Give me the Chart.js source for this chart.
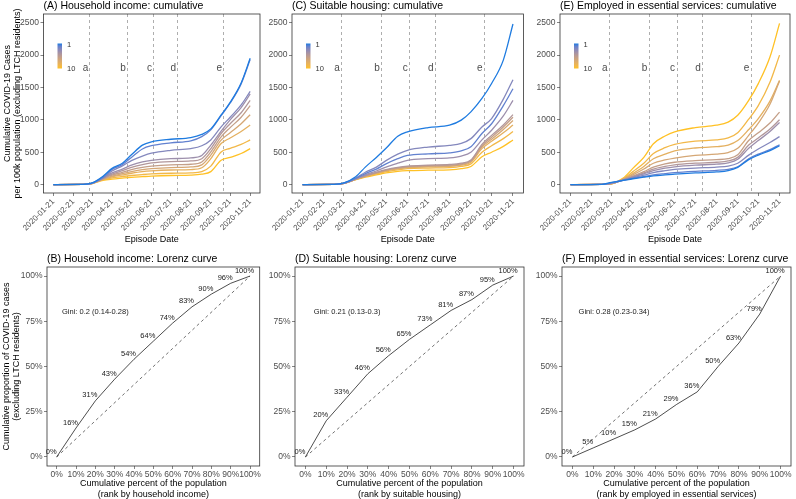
<!DOCTYPE html>
<html>
<head>
<meta charset="utf-8">
<script src="https://cdn.jsdelivr.net/npm/chart.js@4.4.0/dist/chart.umd.min.js"></script>
<style>
  body { margin: 0; background: #fff; }
  #wrap { position: relative; width: 796px; height: 499px; overflow: hidden; background: #fff; }
  canvas { position: absolute; }
</style>
</head>
<body>
<div id="wrap">
  <canvas id="cA" width="265" height="250" style="left:0px;top:0px"></canvas>
  <canvas id="cC" width="265" height="250" style="left:265px;top:0px"></canvas>
  <canvas id="cE" width="266" height="250" style="left:530px;top:0px"></canvas>
  <canvas id="cB" width="265" height="250" style="left:0px;top:250px"></canvas>
  <canvas id="cD" width="265" height="250" style="left:265px;top:250px"></canvas>
  <canvas id="cF" width="266" height="250" style="left:530px;top:250px"></canvas>
</div>
<script>
// ---- data ----
const episodeDates = ['2020-01-21', '2020-03-07', '2020-03-21', '2020-04-07', '2020-04-21', '2020-05-07',
    '2020-05-21', '2020-06-07', '2020-06-21', '2020-07-21', '2020-08-21', '2020-09-07', '2020-09-21',
    '2020-10-07', '2020-10-21', '2020-11-07', '2020-11-21'];
const dateTicks = ['2020-01-21', '2020-02-21', '2020-03-21', '2020-04-21', '2020-05-21', '2020-06-21',
    '2020-07-21', '2020-08-21', '2020-09-21', '2020-10-21', '2020-11-21'];
const eventDates = ['2020-03-17', '2020-05-14', '2020-06-24', '2020-07-31', '2020-10-10'];
const eventLetters = ['a', 'b', 'c', 'd', 'e'];
const decileLabels = ['1', '2', '3', '4', '5', '6', '7', '8', '9', '10'];
const caseTicks = [0, 500, 1000, 1500, 2000, 2500];

// cumulative cases per 100k, one row per decile (1 -> 10)
const incomeCases = [
    [0, 2, 25, 130, 250, 330, 460, 610, 660, 700, 725, 775, 860, 1075, 1270, 1570, 1950],
    [0, 2, 22, 115, 235, 310, 420, 550, 600, 645, 675, 740, 845, 1065, 1260, 1555, 1930],
    [0, 2, 20, 105, 210, 290, 370, 440, 485, 530, 557, 600, 690, 892, 1040, 1230, 1440],
    [0, 2, 20, 100, 180, 240, 300, 350, 375, 400, 412, 450, 610, 825, 1000, 1190, 1400],
    [0, 2, 20, 95, 160, 215, 265, 310, 335, 355, 365, 400, 555, 789, 940, 1110, 1300],
    [0, 2, 18, 90, 145, 190, 230, 265, 285, 305, 314, 350, 505, 737, 880, 1040, 1220],
    [0, 2, 18, 85, 130, 170, 200, 230, 245, 262, 272, 305, 455, 686, 800, 940, 1080],
    [0, 2, 16, 80, 120, 150, 175, 200, 212, 225, 232, 260, 400, 634, 720, 820, 920],
    [0, 2, 16, 75, 105, 125, 140, 155, 165, 175, 180, 200, 285, 505, 560, 620, 690],
    [0, 2, 15, 65, 85, 100, 112, 122, 130, 140, 145, 160, 200, 376, 420, 480, 555]
];
const housingCases = [
    [0, 2, 25, 120, 270, 420, 560, 747, 814, 881, 917, 995, 1123, 1330, 1562, 1923, 2480],
    [0, 2, 22, 95, 170, 240, 320, 400, 450, 475, 490, 520, 585, 790, 940, 1220, 1480],
    [0, 2, 22, 100, 190, 270, 370, 470, 530, 580, 605, 635, 710, 890, 1020, 1320, 1620],
    [0, 2, 20, 90, 150, 210, 270, 330, 375, 400, 412, 440, 500, 690, 840, 1060, 1300],
    [0, 2, 20, 85, 140, 190, 230, 265, 285, 300, 310, 330, 380, 620, 760, 920, 1080],
    [0, 2, 20, 85, 135, 185, 225, 258, 278, 292, 300, 320, 370, 600, 730, 890, 1040],
    [0, 2, 20, 80, 130, 180, 220, 250, 270, 283, 290, 310, 360, 580, 700, 850, 990],
    [0, 2, 20, 80, 128, 175, 212, 243, 262, 273, 280, 300, 345, 555, 670, 800, 920],
    [0, 2, 18, 78, 122, 165, 200, 228, 245, 255, 262, 280, 320, 500, 600, 710, 820],
    [0, 2, 18, 75, 115, 150, 180, 205, 215, 222, 228, 245, 280, 430, 500, 590, 690]
];
const essentialCases = [
    [0, 3, 35, 65, 90, 115, 135, 150, 160, 180, 195, 215, 265, 385, 455, 525, 600],
    [0, 3, 30, 66, 95, 125, 150, 170, 185, 205, 220, 235, 275, 400, 470, 540, 615],
    [0, 2, 25, 68, 105, 145, 185, 215, 235, 255, 270, 285, 330, 455, 550, 650, 740],
    [0, 2, 20, 70, 115, 165, 215, 255, 275, 300, 315, 335, 390, 560, 680, 820, 960],
    [0, 2, 18, 72, 120, 180, 240, 280, 305, 330, 345, 365, 420, 610, 720, 860, 1000],
    [0, 2, 16, 75, 130, 200, 270, 320, 345, 370, 385, 400, 460, 680, 800, 950, 1120],
    [0, 2, 14, 80, 150, 240, 330, 380, 410, 450, 470, 495, 560, 760, 950, 1240, 1600],
    [0, 2, 14, 85, 170, 280, 400, 470, 520, 565, 585, 610, 680, 850, 1020, 1290, 1610],
    [0, 2, 12, 90, 200, 330, 480, 570, 620, 670, 690, 720, 800, 1010, 1220, 1580, 2000],
    [0, 2, 12, 100, 250, 420, 630, 750, 815, 880, 917, 965, 1070, 1300, 1560, 1970, 2490]
];

// Lorenz curves
const popPct = [0, 10, 20, 30, 40, 50, 60, 70, 80, 90, 100];
const pctTicks = [0, 25, 50, 75, 100];
const incomeLorenz = [0, 16, 31, 43, 54, 64, 74, 83, 90, 96, 100];
const housingLorenz = [0, 20, 33, 46, 56, 65, 73, 81, 87, 95, 100];
const essentialLorenz = [0, 5, 10, 15, 21, 29, 36, 50, 63, 79, 100];
const giniNotes = ['Gini: 0.2 (0.14-0.28)', 'Gini: 0.21 (0.13-0.3)', 'Gini: 0.28 (0.23-0.34)'];

// ---- helpers ----
const FONT = "'Liberation Sans', Arial, sans-serif";
Chart.defaults.font.family = FONT;

function dayOf(d) {
    const p = d.split('-').map(Number);
    return (Date.UTC(p[0], p[1] - 1, p[2]) - Date.UTC(2020, 0, 21)) / 86400000;
}

// blue -> gold gradient interpolated in Lab, like ggplot
function hexToRgb(h) { return [1, 3, 5].map(i => parseInt(h.substr(i, 2), 16)); }
function toLin(c) { c /= 255; return c <= 0.04045 ? c / 12.92 : Math.pow((c + 0.055) / 1.055, 2.4); }
function fromLin(c) {
    const v = c <= 0.0031308 ? 12.92 * c : 1.055 * Math.pow(c, 1 / 2.4) - 0.055;
    return Math.round(Math.max(0, Math.min(1, v)) * 255);
}
function rgbToLab(rgb) {
    const [r, g, b] = rgb.map(toLin);
    const X = (0.4124 * r + 0.3576 * g + 0.1805 * b) / 0.95047;
    const Y = 0.2126 * r + 0.7152 * g + 0.0722 * b;
    const Z = (0.0193 * r + 0.1192 * g + 0.9505 * b) / 1.08883;
    const f = t => t > 0.008856 ? Math.cbrt(t) : 7.787 * t + 16 / 116;
    return [116 * f(Y) - 16, 500 * (f(X) - f(Y)), 200 * (f(Y) - f(Z))];
}
function labToHex([L, a, b]) {
    const fy = (L + 16) / 116, fx = fy + a / 500, fz = fy - b / 200;
    const fi = t => t * t * t > 0.008856 ? t * t * t : (t - 16 / 116) / 7.787;
    const X = fi(fx) * 0.95047, Y = fi(fy), Z = fi(fz) * 1.08883;
    const rgb = [3.2406 * X - 1.5372 * Y - 0.4986 * Z, -0.9689 * X + 1.8758 * Y + 0.0415 * Z,
        0.0557 * X - 0.2040 * Y + 1.0570 * Z].map(fromLin);
    return '#' + rgb.map(v => v.toString(16).padStart(2, '0')).join('');
}
const lowLab = rgbToLab(hexToRgb('#1E7BE0'));
const highLab = rgbToLab(hexToRgb('#FFC125'));
const palette = decileLabels.map((_, i) => {
    const t = i / (decileLabels.length - 1);
    return labToHex(lowLab.map((v, k) => v + (highLab[k] - v) * t));
});

const panelBox = {
    id: 'panelBox',
    afterDraw(chart) {
        const { ctx, chartArea: a } = chart;
        ctx.save();
        ctx.strokeStyle = '#333333';
        ctx.lineWidth = 0.8;
        ctx.strokeRect(a.left, a.top, a.right - a.left, a.bottom - a.top);
        ctx.restore();
    }
};

const eventMarks = {
    id: 'eventMarks',
    beforeDatasetsDraw(chart) {
        const { ctx, chartArea: a, scales } = chart;
        ctx.save();
        ctx.strokeStyle = '#8c8c8c';
        ctx.lineWidth = 0.7;
        ctx.setLineDash([3, 3]);
        eventDates.forEach(d => {
            const x = Math.round(scales.x.getPixelForValue(dayOf(d))) + 0.5;
            ctx.beginPath();
            ctx.moveTo(x, a.top);
            ctx.lineTo(x, a.bottom);
            ctx.stroke();
        });
        ctx.setLineDash([]);
        ctx.fillStyle = '#4d4d4d';
        ctx.font = '10px ' + FONT;
        ctx.textAlign = 'center';
        ctx.textBaseline = 'middle';
        eventDates.forEach((d, i) => {
            ctx.fillText(eventLetters[i], scales.x.getPixelForValue(dayOf(d) - 6), scales.y.getPixelForValue(1800));
        });
        ctx.restore();
    }
};

const colourBar = {
    id: 'colourBar',
    afterDraw(chart) {
        const { ctx, chartArea: a } = chart;
        const x = a.left + 14, y = a.top + 29.5, w = 4.5, h = 25;
        const grad = ctx.createLinearGradient(0, y, 0, y + h);
        palette.forEach((c, i) => grad.addColorStop(i / (palette.length - 1), c));
        ctx.save();
        ctx.fillStyle = grad;
        ctx.fillRect(x, y, w, h);
        ctx.fillStyle = '#333333';
        ctx.font = '7.5px ' + FONT;
        ctx.textAlign = 'left';
        ctx.textBaseline = 'middle';
        ctx.fillText(decileLabels[0], x + w + 5, y + 1);
        ctx.fillText(decileLabels[decileLabels.length - 1], x + w + 5, y + h);
        ctx.restore();
    }
};

function lorenzNotes(values, note) {
    return {
        id: 'lorenzNotes',
        afterDatasetsDraw(chart) {
            const { ctx, scales } = chart;
            const pts = chart.getDatasetMeta(0).data;
            ctx.save();
            ctx.fillStyle = '#1a1a1a';
            ctx.font = '7.5px ' + FONT;
            ctx.textAlign = 'center';
            ctx.textBaseline = 'middle';
            pts.forEach((p, i) => ctx.fillText(values[i] + '%', p.x - 5.5, p.y - 5.5));
            ctx.fillText(note, scales.x.getPixelForValue(20), scales.y.getPixelForValue(80));
            ctx.restore();
        }
    };
}

const tickGrid = { drawOnChartArea: false, drawTicks: true, tickLength: 3, color: '#333333', lineWidth: 0.6 };
const tickFont = { size: 8.5 };

function cumulativeChart(id, title, cases, g) {
    const datasets = cases.map((vals, i) => ({
        label: decileLabels[i],
        data: vals.map((v, j) => ({ x: dayOf(episodeDates[j]), y: v })),
        borderColor: palette[i],
        borderWidth: 1.3,
        pointRadius: 0,
        cubicInterpolationMode: 'monotone',
        fill: false
    }));
    return new Chart(document.getElementById(id), {
        type: 'line',
        data: { datasets: datasets },
        options: {
            responsive: false,
            animation: false,
            events: [],
            layout: { padding: { left: 0, right: g.padR, top: 0, bottom: 0 } },
            plugins: {
                legend: { display: false },
                tooltip: { enabled: false },
                title: {
                    display: true, text: title, align: 'start', fullSize: false, color: '#000',
                    font: { size: 10.5, weight: 'normal' }, padding: { top: 0, bottom: 1.4 }
                }
            },
            scales: {
                x: {
                    type: 'linear', min: -15.25, max: 320.25,
                    afterBuildTicks: s => { s.ticks = dateTicks.map(d => ({ value: dayOf(d) })); },
                    afterFit: s => { s.height = g.xh; },
                    ticks: {
                        autoSkip: false, minRotation: 45, maxRotation: 45, padding: 1,
                        color: '#4d4d4d', font: { size: 8 },
                        callback: (v, i) => dateTicks[i]
                    },
                    grid: tickGrid,
                    border: { display: false },
                    title: {
                        display: true, text: 'Episode Date', color: '#000',
                        font: { size: 9, lineHeight: 1.2 }, padding: { top: 0, bottom: 5 }
                    }
                },
                y: {
                    type: 'linear', min: -130, max: 2635,
                    afterBuildTicks: s => { s.ticks = caseTicks.map(v => ({ value: v })); },
                    afterFit: s => { s.width = g.yw; },
                    ticks: { padding: 1.5, color: '#4d4d4d', font: tickFont, callback: v => String(v) },
                    grid: tickGrid,
                    border: { display: false },
                    title: g.yTitle ? {
                        display: true, text: g.yTitle, color: '#000',
                        font: { size: 9, lineHeight: 1.16 }, padding: { top: 1.8, bottom: 0 }
                    } : { display: false }
                }
            }
        },
        plugins: [eventMarks, panelBox, colourBar]
    });
}

function lorenzChart(id, title, values, note, rankText, g) {
    return new Chart(document.getElementById(id), {
        type: 'line',
        data: {
            datasets: [{
                data: popPct.map((p, i) => ({ x: p, y: values[i] })),
                borderColor: '#000', borderWidth: 0.7, pointRadius: 0, tension: 0, fill: false
            }, {
                data: [{ x: popPct[0], y: popPct[0] }, { x: popPct[popPct.length - 1], y: popPct[popPct.length - 1] }],
                borderColor: '#333', borderWidth: 0.7, borderDash: [3, 3], pointRadius: 0, fill: false
            }]
        },
        options: {
            responsive: false,
            animation: false,
            events: [],
            layout: { padding: { left: 0, right: g.padR, top: 0, bottom: 0 } },
            plugins: {
                legend: { display: false },
                tooltip: { enabled: false },
                title: {
                    display: true, text: title, align: 'start', fullSize: false, color: '#000',
                    font: { size: 10.5, weight: 'normal' }, padding: { top: 2.7, bottom: 1.7 }
                }
            },
            scales: {
                x: {
                    type: 'linear', min: -5, max: 105,
                    afterBuildTicks: s => { s.ticks = popPct.map(v => ({ value: v })); },
                    afterFit: s => { s.height = g.xh; },
                    ticks: { padding: 1, color: '#4d4d4d', font: tickFont, maxRotation: 0, autoSkip: false, callback: v => v + '%' },
                    grid: tickGrid,
                    border: { display: false },
                    title: {
                        display: true, text: ['Cumulative percent of the population', rankText], color: '#000',
                        font: { size: 9, lineHeight: 1.19 }, padding: { top: 0, bottom: 0 }
                    }
                },
                y: {
                    type: 'linear', min: -5, max: 105,
                    afterBuildTicks: s => { s.ticks = pctTicks.map(v => ({ value: v })); },
                    afterFit: s => { s.width = g.yw; },
                    ticks: { padding: 1.5, color: '#4d4d4d', font: tickFont, callback: v => v + '%' },
                    grid: tickGrid,
                    border: { display: false },
                    title: g.yTitle ? {
                        display: true, text: g.yTitle, color: '#000',
                        font: { size: 9, lineHeight: 1.16 }, padding: { top: 0.8, bottom: 0 }
                    } : { display: false }
                }
            }
        },
        plugins: [panelBox, lorenzNotes(values, note)]
    });
}

cumulativeChart('cA', '(A) Household income: cumulative', incomeCases,
    { yw: 43.5, xh: 57, padR: 5, yTitle: ['Cumulative COVID-19 Cases', 'per 100k population (excluding LTCH residents)'] });
cumulativeChart('cC', '(C) Suitable housing: cumulative', housingCases, { yw: 27, xh: 57, padR: 6.5 });
cumulativeChart('cE', '(E) Employed in essential services: cumulative', essentialCases, { yw: 30, xh: 57, padR: 6 });

lorenzChart('cB', '(B) Household income: Lorenz curve', incomeLorenz, giniNotes[0], '(rank by household income)',
    { yw: 47, xh: 34, padR: 5.3, yTitle: ['Cumulative proportion of COVID-19 cases', '(excluding LTCH residents)'] });
lorenzChart('cD', '(D) Suitable housing: Lorenz curve', housingLorenz, giniNotes[1], '(rank by suitable housing)',
    { yw: 30, xh: 34, padR: 6 });
lorenzChart('cF', '(F) Employed in essential services: Lorenz curve', essentialLorenz, giniNotes[2],
    '(rank by employed in essential services)', { yw: 32, xh: 34, padR: 5 });
</script>
</body>
</html>
